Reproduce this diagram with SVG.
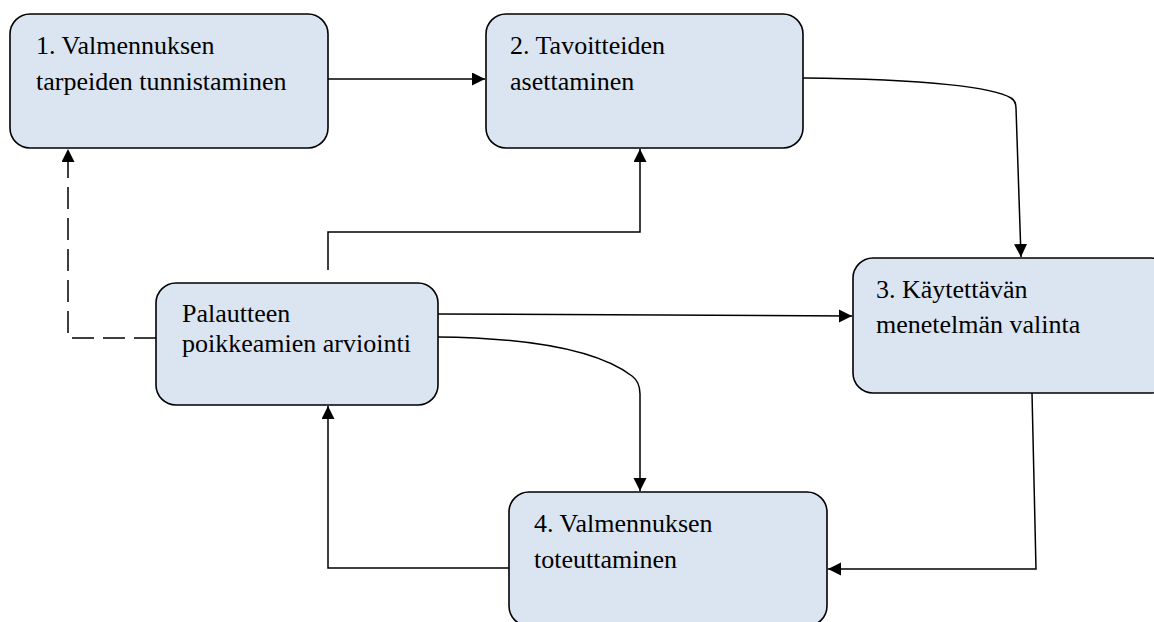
<svg xmlns="http://www.w3.org/2000/svg" width="1154" height="622" viewBox="0 0 1154 622">
<style>
.box{fill:#dbe5f1;stroke:#000;stroke-width:1.6}
.t{font-family:"Liberation Serif","Times New Roman",serif;font-size:26px;fill:#000}
.c{fill:none;stroke:#000;stroke-width:1.5}
.a{marker-end:url(#ah)}
.d{stroke-dasharray:22 9}
</style>
<defs>
<marker id="ah" markerUnits="userSpaceOnUse" markerWidth="14" markerHeight="14" refX="13" refY="6.5" orient="auto">
<path d="M0,0 L13,6.5 L0,13 z" fill="#000"/>
</marker>
</defs>
<rect width="1154" height="622" fill="#fff"/>
<g id="connectors">
<path class="c a" d="M328,79 L485,79"/>
<path class="c a" d="M803,78 C930,79 995,88 1011,98 Q1016,101 1016,108 L1021,257"/>
<path class="c a" d="M437,314 L852,316"/>
<path class="c a" d="M437,337 C540,338 600,352 632,376 Q640,382 640,394 L640,491"/>
<path class="c a" d="M1032,393 L1036,569 L828,569"/>
<path class="c a" d="M509,568 L328,568 L328,406"/>
<path class="c a" d="M328,270 L328,232 L640,232 L640,149"/>
<path class="c d a" d="M156,338 L68,338 L68,149"/>
</g>
<g id="n1">
<rect class="box" x="10" y="14" width="318" height="134" rx="20"/>
<text class="t" x="36" y="54">1. Valmennuksen</text>
<text class="t" x="36" y="90">tarpeiden tunnistaminen</text>
</g>
<g id="n2">
<rect class="box" x="486" y="14" width="317" height="134" rx="20"/>
<text class="t" x="510" y="54">2. Tavoitteiden</text>
<text class="t" x="510" y="90">asettaminen</text>
</g>
<g id="n3">
<rect class="box" x="853" y="258" width="318" height="135" rx="20"/>
<text class="t" x="876" y="298">3. Käytettävän</text>
<text class="t" x="876" y="333">menetelmän valinta</text>
</g>
<g id="n5">
<rect class="box" x="156" y="283" width="282" height="122" rx="20"/>
<text class="t" x="182" y="322">Palautteen</text>
<text class="t" x="182" y="352">poikkeamien arviointi</text>
</g>
<g id="n4">
<rect class="box" x="509" y="492" width="318" height="134" rx="20"/>
<text class="t" x="534" y="532">4. Valmennuksen</text>
<text class="t" x="534" y="568">toteuttaminen</text>
</g>
</svg>
